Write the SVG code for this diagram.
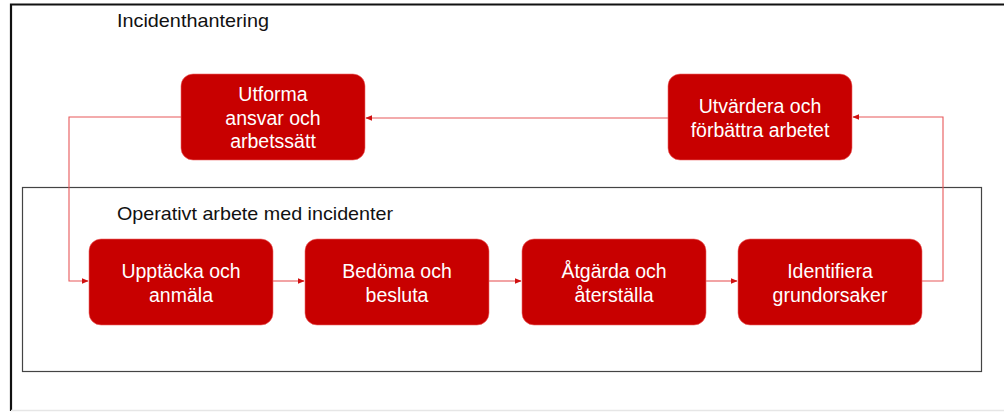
<svg xmlns="http://www.w3.org/2000/svg" width="1004" height="412" viewBox="0 0 1004 412">
<style>
.node rect{fill:#c80000;stroke:#e66;stroke-width:0.6}
.node text{fill:#fff;font-family:"Liberation Sans",Arial,sans-serif;font-size:19.5px;text-anchor:middle}
.hdr{fill:#111;font-family:"Liberation Sans",Arial,sans-serif;font-size:18.5px}
.conn path{fill:none;stroke:#e8585a;stroke-width:1.1}
</style>
<defs>
<marker id="ah" viewBox="0 0 10 10" refX="9" refY="5" markerWidth="7" markerHeight="7" markerUnits="userSpaceOnUse" orient="auto">
<path d="M0,1 L10,5 L0,9 z" fill="#d01010"/>
</marker>
</defs>
<rect x="0" y="0" width="1004" height="412" fill="#fff"/>
<g id="frame">
<path d="M11,411 V4.5 H1004" fill="none" stroke="#111" stroke-width="2.2"/>
<path d="M11,410.5 H1004" fill="none" stroke="#e6e6e6" stroke-width="1.5"/>
</g>
<g id="inner-box">
<rect x="22.5" y="187.5" width="959" height="184" fill="none" stroke="#444" stroke-width="1.2"/>
</g>
<text class="hdr" x="117" y="27" textLength="152" lengthAdjust="spacingAndGlyphs">Incidenthantering</text>
<text class="hdr" x="117" y="220" textLength="276" lengthAdjust="spacingAndGlyphs">Operativt arbete med incidenter</text>
<g class="conn" id="connectors">
<path d="M181,117 H69 V281 H88" marker-end="url(#ah)"/>
<path d="M273,281 H304" marker-end="url(#ah)"/>
<path d="M489,281 H521" marker-end="url(#ah)"/>
<path d="M706,281 H737" marker-end="url(#ah)"/>
<path d="M922,281 H943 V117 H853" marker-end="url(#ah)"/>
<path d="M668,118 H366" marker-end="url(#ah)"/>
</g>
<g class="node" id="n-utforma">
<rect x="181" y="74" width="184" height="86" rx="12"/>
<text x="273" y="101">Utforma</text>
<text x="273" y="124.5">ansvar och</text>
<text x="273" y="148">arbetssätt</text>
</g>
<g class="node" id="n-utvardera">
<rect x="668" y="74" width="184" height="86" rx="12"/>
<text x="760" y="113">Utvärdera och</text>
<text x="760" y="137">förbättra arbetet</text>
</g>
<g class="node" id="n-upptacka">
<rect x="89" y="239" width="184" height="86" rx="12"/>
<text x="181" y="278">Upptäcka och</text>
<text x="181" y="302">anmäla</text>
</g>
<g class="node" id="n-bedoma">
<rect x="305" y="239" width="184" height="86" rx="12"/>
<text x="397" y="278">Bedöma och</text>
<text x="397" y="302">besluta</text>
</g>
<g class="node" id="n-atgarda">
<rect x="522" y="239" width="184" height="86" rx="12"/>
<text x="614" y="278">Åtgärda och</text>
<text x="614" y="302">återställa</text>
</g>
<g class="node" id="n-identifiera">
<rect x="738" y="239" width="184" height="86" rx="12"/>
<text x="830" y="278">Identifiera</text>
<text x="830" y="302">grundorsaker</text>
</g>
</svg>
